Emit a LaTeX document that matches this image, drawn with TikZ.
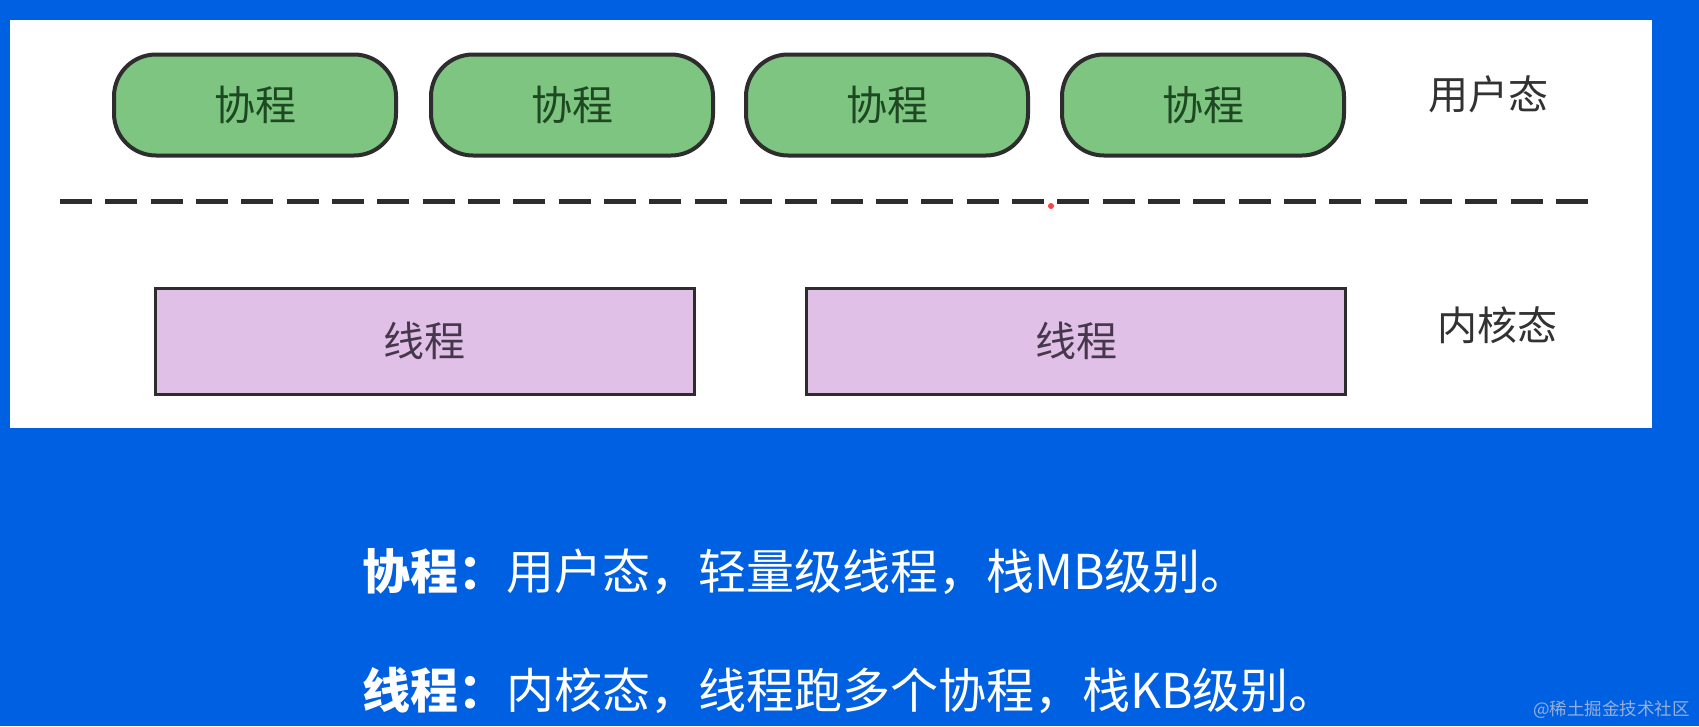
\documentclass[tikz,border=0pt]{standalone}
\usepackage{fontspec}
\setmainfont{Noto Sans CJK SC}
\definecolor{bgblue}{RGB}{0,96,226}
\definecolor{cofill}{RGB}{126,197,129}
\definecolor{cotext}{RGB}{30,72,34}
\definecolor{thfill}{RGB}{225,192,232}
\definecolor{thtext}{RGB}{70,56,76}
\definecolor{edge}{RGB}{45,45,45}
\definecolor{lbl}{RGB}{50,50,50}
\definecolor{wmark}{RGB}{150,175,215}
\tikzset{
  coro/.style={draw=edge, line width=4pt, fill=cofill, rounded corners=42pt,
    minimum width=282pt, minimum height=101pt, text=cotext, font=\fontsize{41}{48}\selectfont},
  thread/.style={draw=edge, line width=3pt, fill=thfill,
    minimum width=539pt, minimum height=106pt, text=thtext, font=\fontsize{41}{48}\selectfont},
  layer/.style={text=lbl, font=\fontsize{40}{48}\selectfont},
  note/.style={text=white, anchor=west, font=\fontsize{48}{56}\selectfont, inner sep=0pt},
}
\begin{document}
\begin{tikzpicture}[x=1pt,y=-1pt]
\useasboundingbox (0,0) rectangle (1699,726);
\fill[bgblue] (0,0) rectangle (1699,726);
\fill[white] (10,20) rectangle (1652,428);
\node[coro] (c1) at (255,105) {协程};
\node[coro] (c2) at (572,105) {协程};
\node[coro] (c3) at (887,105) {协程};
\node[coro] (c4) at (1203,105) {协程};
\node[layer] (u) at (1488,94) {用户态};
\coordinate (dl) at (60,201);
\coordinate (dr) at (1588,201);
\draw[edge, line width=5pt, dash pattern=on 32pt off 13.33pt] (dl) -- (dr);
\fill[red!75!white] (1051,206) circle (3pt);
\node[thread] (t1) at (424.5,341) {线程};
\node[thread] (t2) at (1076,341) {线程};
\node[layer] (k) at (1497,325) {内核态};
\node[note] (n1) at (362,572) {{\bfseries 协程：}用户态，轻量级线程，栈MB级别。};
\node[note] (n2) at (362,690) {{\bfseries 线程：}内核态，线程跑多个协程，栈KB级别。};
\node[text=wmark, anchor=east, font=\fontsize{17.5}{20}\selectfont, inner sep=0pt] (wm) at (1690,710) {@稀土掘金技术社区};
\end{tikzpicture}
\end{document}
